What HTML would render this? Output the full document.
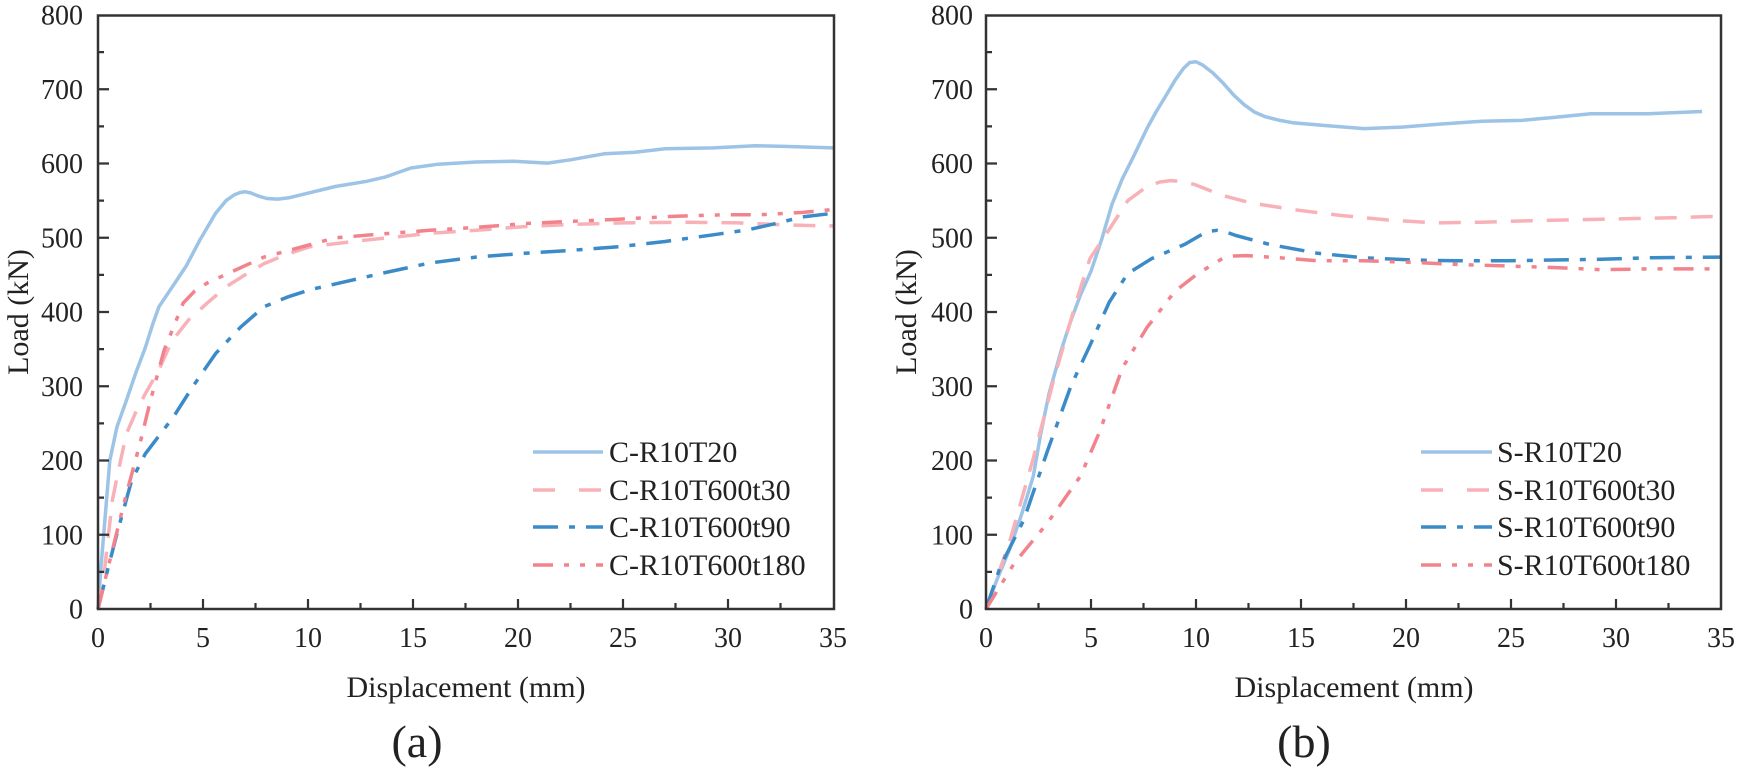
<!DOCTYPE html>
<html>
<head>
<meta charset="utf-8">
<style>
html,body{margin:0;padding:0;background:#fff;}
svg{display:block;font-family:"Liberation Serif","Times New Roman",serif;}
text{font-family:"Liberation Serif","Times New Roman",serif;fill:#222;}
.tk{font-size:28px;}
.tt{font-size:30px;}
.lg{font-size:30px;}
.cap{font-size:46px;}
.s1{stroke:#9dc3e6;}
.s2{stroke:#f9b1b8;}
.s3{stroke:#3b8bc8;}
.s4{stroke:#f2838c;}
.c{fill:none;stroke-width:3.5;stroke-linejoin:round;}
</style>
</head>
<body>
<svg width="1738" height="772" viewBox="0 0 1738 772" xmlns="http://www.w3.org/2000/svg" font-family="Liberation Serif, Times New Roman, serif">
<rect width="1738" height="772" fill="#fff"/>

<!-- ===== LEFT PLOT ===== -->
<g>
<polyline class="c s1" points="98,609 101.2,564.4 104.3,527.3 109.8,460.5 116.9,427.1 126.4,400.4 135.8,372.9 145.3,347.6 152.6,324.6 158.9,306.8 169.4,291.2 177.8,278.6 186.2,266 199.9,240 215.6,213.2 226.1,200.6 234.5,194.7 239.8,192.6 245,191.7 251,193 258.9,196.2 267,198.5 277.8,199.1 289,197.8 301.7,194.7 335.3,186.5 366.8,181.3 385.7,176.9 410.9,168 438.2,164.2 476,162 513.8,161.3 547.4,163.1 570.5,159.8 604.1,153.8 633.5,152.4 665,148.7 713.3,147.9 755.3,145.7 784.7,146.4 833,147.9"/>
<polyline class="c s2" stroke-dasharray="22 14" points="98,609 104.3,571.9 112.3,500.6 119,467.9 126.4,433.8 135.8,412.2 145.3,393.7 158.9,369.9 171.5,341.7 188.3,320.2 207.2,303.1 226.1,286.8 245,274.9 263.9,263.7 287,254.1 310.1,246.7 360.5,240.7 429.8,233.3 476,230.3 524.3,226.6 570.5,224.4 623,222.9 686,222.2 738.5,222.9 791,225.1 833,225.9"/>
<polyline class="c s3" stroke-dasharray="25 11 6 11" points="98,609 107.5,570.4 116.9,534 131.6,480.5 145.3,453.8 158.9,436 173.6,416.7 192.5,387 215.6,353.6 240.8,326.9 263.9,306.8 287,297.2 310.1,289.7 345.8,281.6 381.5,273.4 429.8,263 476,257.1 524.3,253.3 570.5,250.4 618.8,246.7 665,241.5 713.3,234.8 749,229.6 778.4,222.9 801.5,217 833,213.3"/>
<polyline class="c s4" stroke-dasharray="20 11 5 11 5 11" points="98,609 112.3,550.3 126.4,493.9 140,443.4 150.5,400.4 164.2,349.9 173.6,326.9 183.1,303.1 194.6,291.2 207.2,283 228.2,273.4 263.9,257.1 297.5,248.1 335.3,237.8 381.5,234 429.8,230.3 476,227.4 524.3,223.6 570.5,221.4 618.8,219.2 675.5,216.2 728,214.7 759.5,214.7 801.5,212.5 833,209.5"/>

<rect x="98" y="15.5" width="736" height="593.5" fill="none" stroke="#333" stroke-width="2.5"/>
<g stroke="#333" stroke-width="2.2">
<path d="M203,609V599 M308,609V599 M413,609V599 M518,609V599 M623,609V599 M728,609V599
M150.5,609V603 M255.5,609V603 M360.5,609V603 M465.5,609V603 M570.5,609V603 M675.5,609V603 M780.5,609V603
M98,534.75H109 M98,460.5H109 M98,386.25H109 M98,312H109 M98,237.75H109 M98,163.5H109 M98,89.25H109
M98,571.9H104 M98,497.6H104 M98,423.4H104 M98,349.1H104 M98,274.9H104 M98,200.6H104 M98,126.4H104 M98,52.1H104"/>
</g>
<g class="tk" text-anchor="end">
<text x="83" y="618.5">0</text>
<text x="83" y="544.25">100</text>
<text x="83" y="470">200</text>
<text x="83" y="395.75">300</text>
<text x="83" y="321.5">400</text>
<text x="83" y="247.25">500</text>
<text x="83" y="173">600</text>
<text x="83" y="98.75">700</text>
<text x="83" y="24.5">800</text>
</g>
<g class="tk" text-anchor="middle">
<text x="98" y="647">0</text>
<text x="203" y="647">5</text>
<text x="308" y="647">10</text>
<text x="413" y="647">15</text>
<text x="518" y="647">20</text>
<text x="623" y="647">25</text>
<text x="728" y="647">30</text>
<text x="833" y="647">35</text>
</g>
<text class="tt" x="466" y="697" text-anchor="middle">Displacement (mm)</text>
<text class="tt" x="0" y="0" text-anchor="middle" transform="translate(28,312) rotate(-90)">Load (kN)</text>
<text class="cap" x="417" y="757" text-anchor="middle">(a)</text>

<line class="c s1" x1="533" y1="452" x2="603" y2="452"/>
<line class="c s2" x1="533" y1="490" x2="603" y2="490" stroke-dasharray="22 24"/>
<line class="c s3" x1="533" y1="527" x2="603" y2="527" stroke-dasharray="25 11 6 11"/>
<line class="c s4" x1="533" y1="565" x2="603" y2="565" stroke-dasharray="20 11 5 11 5 11"/>
<g class="lg">
<text x="609" y="462">C-R10T20</text>
<text x="609" y="500">C-R10T600t30</text>
<text x="609" y="537">C-R10T600t90</text>
<text x="609" y="575">C-R10T600t180</text>
</g>
</g>

<!-- ===== RIGHT PLOT ===== -->
<g>
<polyline class="c s1" points="986,609 996.5,580.8 1009.7,548.9 1021.7,514 1033.3,476.1 1040.6,434.5 1049,393.7 1061.6,349.1 1070,323.1 1080.5,294.9 1091,271.2 1101.5,240 1112,204.3 1122.5,178.4 1133,157.6 1146.9,128.6 1156,112 1165.8,95.9 1175,80.3 1183.4,68.5 1189.7,62.5 1196,61.8 1202.3,64.8 1212.8,72.9 1223.3,83.3 1233.8,95.2 1244.3,104.8 1254.8,112.3 1265.3,116.7 1280,120.4 1292.6,122.7 1326.2,125.6 1364,128.6 1401.8,127.1 1439.6,124.1 1481.6,121.2 1521.5,120.4 1553,117.5 1590.8,113.8 1647.5,113.8 1702.1,111.5"/>
<polyline class="c s2" stroke-dasharray="22 14" points="986,609 1009.7,541.4 1033.3,458.3 1052.2,385.5 1075.9,302.4 1090,258.5 1109.1,229.6 1127.8,200.6 1146.9,186.5 1160,182 1170.4,180.6 1182,181.5 1193.9,184.3 1222.5,195.4 1250.6,202.9 1292.6,209.5 1340.9,215.5 1387.1,219.9 1435.4,222.9 1481.6,222.2 1529.9,220.7 1601.3,219.2 1672.7,217.7 1721,216.2"/>
<polyline class="c s3" stroke-dasharray="25 11 6 11" points="986,609 1000.3,566.7 1023.8,519.9 1047.5,450.8 1071.1,385.5 1090,345.4 1109.1,302.4 1127.8,273.4 1151.9,258.5 1184.7,244.4 1200,235.5 1208,231.5 1217,230.3 1226,232 1235.9,235.5 1269.5,244.4 1317.8,253.3 1364,257.8 1412.3,260 1458.5,260.8 1506.8,260.8 1553,260 1601.3,259.3 1647.5,257.8 1721,257.1"/>
<polyline class="c s4" stroke-dasharray="20 11 5 11 5 11" points="986,609 1014.4,563 1047.5,522.9 1080.5,476.1 1099.4,432.3 1122.5,367.7 1146.9,327.6 1175,291.2 1198.1,273.4 1222.5,258.5 1234,256 1246.4,255.6 1280,257.8 1317.8,260.8 1364,260.8 1412.3,262.3 1458.5,264.5 1506.8,266 1553,267.5 1601.3,269.7 1647.5,268.9 1721,268.9"/>

<rect x="986" y="15.5" width="735" height="593.5" fill="none" stroke="#333" stroke-width="2.5"/>
<g stroke="#333" stroke-width="2.2">
<path d="M1091,609V599 M1196,609V599 M1301,609V599 M1406,609V599 M1511,609V599 M1616,609V599
M1038.5,609V603 M1143.5,609V603 M1248.5,609V603 M1353.5,609V603 M1458.5,609V603 M1563.5,609V603 M1668.5,609V603
M986,534.75H997 M986,460.5H997 M986,386.25H997 M986,312H997 M986,237.75H997 M986,163.5H997 M986,89.25H997
M986,571.9H992 M986,497.6H992 M986,423.4H992 M986,349.1H992 M986,274.9H992 M986,200.6H992 M986,126.4H992 M986,52.1H992"/>
</g>
<g class="tk" text-anchor="end">
<text x="973" y="618.5">0</text>
<text x="973" y="544.25">100</text>
<text x="973" y="470">200</text>
<text x="973" y="395.75">300</text>
<text x="973" y="321.5">400</text>
<text x="973" y="247.25">500</text>
<text x="973" y="173">600</text>
<text x="973" y="98.75">700</text>
<text x="973" y="24.5">800</text>
</g>
<g class="tk" text-anchor="middle">
<text x="986" y="647">0</text>
<text x="1091" y="647">5</text>
<text x="1196" y="647">10</text>
<text x="1301" y="647">15</text>
<text x="1406" y="647">20</text>
<text x="1511" y="647">25</text>
<text x="1616" y="647">30</text>
<text x="1721" y="647">35</text>
</g>
<text class="tt" x="1354" y="697" text-anchor="middle">Displacement (mm)</text>
<text class="tt" x="0" y="0" text-anchor="middle" transform="translate(916,312) rotate(-90)">Load (kN)</text>
<text class="cap" x="1304" y="757" text-anchor="middle">(b)</text>

<line class="c s1" x1="1421" y1="452" x2="1492" y2="452"/>
<line class="c s2" x1="1421" y1="490" x2="1492" y2="490" stroke-dasharray="22 24"/>
<line class="c s3" x1="1421" y1="527" x2="1492" y2="527" stroke-dasharray="25 11 6 11"/>
<line class="c s4" x1="1421" y1="565" x2="1492" y2="565" stroke-dasharray="20 11 5 11 5 11"/>
<g class="lg">
<text x="1497" y="462">S-R10T20</text>
<text x="1497" y="500">S-R10T600t30</text>
<text x="1497" y="537">S-R10T600t90</text>
<text x="1497" y="575">S-R10T600t180</text>
</g>
</g>
</svg>
</body>
</html>
